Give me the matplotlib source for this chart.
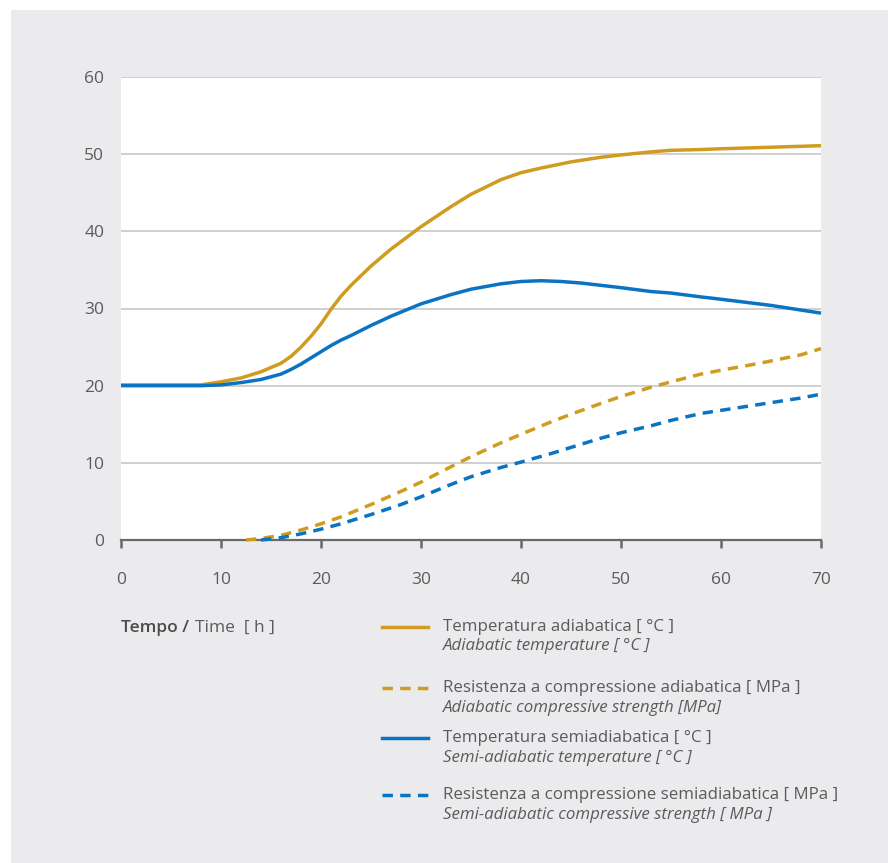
import matplotlib
matplotlib.use("Agg")
import matplotlib.pyplot as plt
from matplotlib.lines import Line2D
from matplotlib.patches import Rectangle

plt.rcParams['font.family'] = ['Open Sans', 'DejaVu Sans']

# ---- data ----
t_ad = [0, 5, 8, 10, 12, 14, 16, 17, 18, 19, 20, 21, 22, 23, 25, 27, 30, 33, 35, 38, 40, 42, 45, 48, 50, 53, 55, 58, 60, 65, 70]
temp_ad = [20.1, 20.1, 20.1, 20.5, 21.0, 21.8, 22.9, 23.8, 25.0, 26.4, 28.0, 29.9, 31.6, 33.0, 35.5, 37.7, 40.6, 43.2, 44.8, 46.7, 47.6, 48.2, 49.0, 49.6, 49.9, 50.3, 50.5, 50.6, 50.7, 50.9, 51.1]

t_sad = [0, 5, 8, 10, 12, 14, 16, 17, 18, 19, 20, 21, 22, 23, 25, 27, 30, 33, 35, 38, 40, 42, 44, 46, 48, 50, 53, 55, 58, 60, 65, 70]
temp_sad = [20.0, 20.0, 20.0, 20.1, 20.4, 20.8, 21.5, 22.1, 22.8, 23.6, 24.4, 25.2, 25.9, 26.5, 27.8, 29.0, 30.6, 31.8, 32.5, 33.2, 33.5, 33.6, 33.5, 33.3, 33.0, 32.7, 32.2, 32.0, 31.5, 31.2, 30.4, 29.4]

t_str_ad = [12.5, 14, 16, 18, 20, 22, 25, 28, 30, 33, 35, 38, 40, 43, 45, 48, 50, 53, 55, 58, 60, 63, 65, 68, 70]
str_ad = [0.0, 0.2, 0.6, 1.3, 2.1, 3.0, 4.6, 6.3, 7.5, 9.5, 10.8, 12.6, 13.7, 15.3, 16.3, 17.7, 18.6, 19.8, 20.5, 21.5, 22.0, 22.7, 23.2, 24.0, 24.8]

t_str_sad = [14, 16, 18, 20, 22, 25, 28, 30, 33, 35, 38, 40, 43, 45, 48, 50, 53, 55, 58, 60, 63, 65, 68, 70]
str_sad = [0.0, 0.3, 0.8, 1.4, 2.1, 3.3, 4.6, 5.6, 7.2, 8.2, 9.4, 10.1, 11.2, 12.0, 13.2, 13.9, 14.8, 15.5, 16.4, 16.8, 17.4, 17.8, 18.4, 18.9]

x_ticks = [0, 10, 20, 30, 40, 50, 60, 70]
y_ticks = [0, 10, 20, 30, 40, 50, 60]

legend_it = ["Temperatura adiabatica [ °C ]",
             "Resistenza a compressione adiabatica [ MPa ]",
             "Temperatura semiadiabatica [ °C ]",
             "Resistenza a compressione semiadiabatica [ MPa ]"]
legend_en = ["Adiabatic temperature [ °C ]",
             "Adiabatic compressive strength [MPa]",
             "Semi-adiabatic temperature [ °C ]",
             "Semi-adiabatic compressive strength [ MPa ]"]

GOLD = '#CF9C1F'
BLUE = '#0A74C2'
TXT = '#5b5b5b'
BG = '#EBEBED'

W, H = 888, 863
fig = plt.figure(figsize=(W / 100, H / 100), dpi=100)
fig.patch.set_facecolor('white')
fig.patches.append(Rectangle((11 / W, 0), 1 - 11 / W, 1 - 10 / H, transform=fig.transFigure,
                             facecolor=BG, edgecolor='none', zorder=-10))

ax = fig.add_axes([121 / W, 1 - 540 / H, 700 / W, 463 / H])
ax.set_facecolor('white')
ax.set_xlim(0, 70)
ax.set_ylim(0, 60)

for s in ['top', 'right', 'left']:
    ax.spines[s].set_visible(False)
ax.spines['bottom'].set_color('#6a6a6a')
ax.spines['bottom'].set_linewidth(1.6)

ax.set_yticks(y_ticks)
ax.set_xticks(x_ticks)
ax.tick_params(axis='y', length=0, pad=12, labelsize=12.5, labelcolor=TXT)
ax.tick_params(axis='x', direction='out', length=6, width=1.8, color='#6a6a6a', pad=17,
               labelsize=12.5, labelcolor=TXT)
for yv in y_ticks[1:]:
    ax.axhline(yv, color='#cfcfcf', lw=1.4, zorder=1)

lw = 2.5
dash = (0, (3.0, 2.1))
ax.plot(t_ad, temp_ad, color=GOLD, lw=lw, solid_capstyle='butt', zorder=3, clip_on=False)
ax.plot(t_sad, temp_sad, color=BLUE, lw=lw, solid_capstyle='butt', zorder=3, clip_on=False)
ax.plot(t_str_ad, str_ad, color=GOLD, lw=lw, ls=dash, zorder=3, clip_on=False)
ax.plot(t_str_sad, str_sad, color=BLUE, lw=lw, ls=dash, zorder=3, clip_on=False)

# axis title
fig.text(121 / W, 1 - 628 / H, "Tempo /", fontsize=12.5, color='#4a4a4a', fontweight='semibold',
         ha='left', va='center')
fig.text(195 / W, 1 - 628 / H, "Time  [ h ]", fontsize=12.5, color=TXT, ha='left', va='center')

# legend
styles = [(GOLD, '-'), (GOLD, dash), (BLUE, '-'), (BLUE, dash)]
ys = [627, 688, 738, 795]
for (c, ls), y, it, en in zip(styles, ys, legend_it, legend_en):
    fig.add_artist(Line2D([382 / W, 428 / W], [1 - y / H, 1 - y / H], color=c, lw=lw, ls=ls,
                          transform=fig.transFigure))
    fig.text(443 / W, 1 - y / H, it, fontsize=12.2, color=TXT, ha='left', va='center')
    fig.text(443 / W, 1 - (y + 19.5) / H, en, fontsize=12.2, color=TXT, style='italic',
             ha='left', va='center')

fig.savefig('out.png', dpi=100, facecolor=fig.get_facecolor())
